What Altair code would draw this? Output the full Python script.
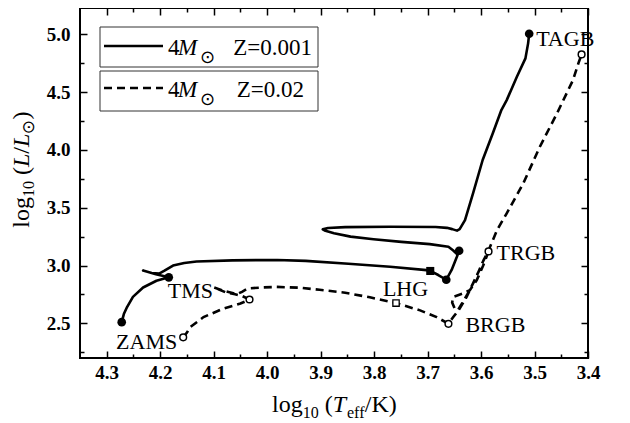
import altair as alt
import pandas as pd

# ---------------- data ----------------
# 4 Msun, Z=0.001 track (solid)
solid_logT = [4.272, 4.268, 4.262, 4.251, 4.232, 4.207, 4.184, 4.208, 4.232, 4.216, 4.202, 4.192,
              4.176, 4.155, 4.132, 4.065, 3.981, 3.928, 3.848, 3.770, 3.702, 3.695, 3.680, 3.665,
              3.655, 3.645, 3.641, 3.645, 3.652, 3.661, 3.696, 3.749, 3.801, 3.844, 3.875, 3.891,
              3.896, 3.886, 3.854, 3.770, 3.685, 3.664, 3.654, 3.645, 3.640, 3.630, 3.615, 3.597,
              3.578, 3.562, 3.552, 3.533, 3.517, 3.512, 3.510]
solid_logL = [2.510, 2.580, 2.641, 2.729, 2.810, 2.868, 2.898, 2.925, 2.956, 2.935, 2.930, 2.955,
              3.000, 3.022, 3.035, 3.045, 3.048, 3.040, 3.015, 2.990, 2.960, 2.953, 2.918, 2.877,
              2.962, 3.078, 3.128, 3.100, 3.130, 3.162, 3.185, 3.205, 3.228, 3.250, 3.280, 3.300,
              3.313, 3.325, 3.332, 3.335, 3.333, 3.326, 3.315, 3.302, 3.315, 3.393, 3.625, 3.913,
              4.144, 4.345, 4.431, 4.633, 4.792, 4.922, 5.005]

# 4 Msun, Z=0.02 track (dashed)
dash_logT = [4.157, 4.150, 4.144, 4.119, 4.082, 4.050, 4.033, 4.046, 4.060, 4.076, 4.100, 4.081,
             4.057, 4.047, 4.036, 4.007, 3.982, 3.938, 3.902, 3.854, 3.808, 3.759, 3.714, 3.683,
             3.661, 3.652, 3.640, 3.627, 3.615, 3.603, 3.595, 3.586, 3.596, 3.608, 3.621, 3.634,
             3.652, 3.654, 3.649, 3.643, 3.634, 3.622, 3.609, 3.598, 3.586, 3.570, 3.552, 3.521,
             3.490, 3.458, 3.428, 3.418, 3.412]
dash_logL = [2.379, 2.420, 2.467, 2.554, 2.627, 2.671, 2.706, 2.735, 2.752, 2.765, 2.811, 2.781,
             2.752, 2.772, 2.802, 2.811, 2.815, 2.808, 2.790, 2.765, 2.725, 2.675, 2.612, 2.554,
             2.496, 2.554, 2.627, 2.729, 2.846, 2.962, 3.050, 3.122, 3.000, 2.874, 2.787, 2.758,
             2.729, 2.680, 2.625, 2.615, 2.685, 2.780, 2.900, 3.020, 3.130, 3.307, 3.452, 3.711,
             4.028, 4.316, 4.605, 4.749, 4.826]

# key points (ZAMS, TMS, BRGB, TRGB, TAGB) and LHG
solid_pt_T = [4.272, 4.184, 3.665, 3.641, 3.510]
solid_pt_L = [2.510, 2.898, 2.877, 3.128, 5.005]
solid_lhg_T = [3.695]
solid_lhg_L = [2.953]
dash_pt_T = [4.157, 4.033, 3.661, 3.586, 3.412]
dash_pt_L = [2.379, 2.706, 2.496, 3.122, 4.826]
dash_lhg_T = [3.759]
dash_lhg_L = [2.675]

label_text = ["TAGB", "TRGB", "BRGB", "LHG", "TMS", "ZAMS"]
label_T = [3.510, 3.586, 3.661, 3.759, 4.184, 4.157]
label_L = [5.005, 3.122, 2.496, 2.675, 2.898, 2.379]

x_major = [4.3, 4.2, 4.1, 4.0, 3.9, 3.8, 3.7, 3.6, 3.5, 3.4]
x_minor = [4.25, 4.15, 4.05, 3.95, 3.85, 3.75, 3.65, 3.55, 3.45]
y_major = [2.5, 3.0, 3.5, 4.0, 4.5, 5.0]
y_minor = [2.25, 2.75, 3.25, 3.75, 4.25, 4.75]

legend_mass = "4"
legend_z = ["Z=0.001", "Z=0.02"]

# ---------------- styling ----------------
W, H = 508, 350
SERIF = "Liberation Serif"
SYM = "DejaVu Sans"
xs = alt.Scale(domain=[3.4, 4.35], reverse=True, nice=False, zero=False)
ys = alt.Scale(domain=[2.2, 5.228], nice=False, zero=False)


def ax(values, orient, size, labels=False, pad=4):
    kw = dict(values=values, orient=orient, tickSize=size, offset=-size, domain=False,
              grid=False, labels=labels, ticks=True, tickColor="black", tickWidth=1.5,
              title=None)
    if labels:
        kw.update(format=".1f", labelFont=SERIF, labelFontSize=19, labelFontWeight="bold",
                  labelColor="black", labelPadding=pad, labelFlush=False, labelOverlap=False)
    return alt.Axis(**kw)


solid_df = pd.DataFrame({"T": solid_logT, "L": solid_logL, "i": range(len(solid_logT))})
dash_df = pd.DataFrame({"T": dash_logT, "L": dash_logL, "i": range(len(dash_logT))})
spts = pd.DataFrame({"T": solid_pt_T, "L": solid_pt_L})
dpts = pd.DataFrame({"T": dash_pt_T, "L": dash_pt_L})
slhg = pd.DataFrame({"T": solid_lhg_T, "L": solid_lhg_L})
dlhg = pd.DataFrame({"T": dash_lhg_T, "L": dash_lhg_L})
lab_df = pd.DataFrame({"T": label_T, "L": label_L, "s": label_text})

NX = alt.X("T:Q", scale=xs, axis=None)
NY = alt.Y("L:Q", scale=ys, axis=None)

layers = []
layers.append(
    alt.Chart(solid_df).mark_line(color="black", strokeWidth=2.6, strokeJoin="round").encode(
        x=alt.X("T:Q", scale=xs, axis=ax(x_major, "bottom", 7, True, 5)),
        y=alt.Y("L:Q", scale=ys, axis=ax(y_major, "left", 7, True, 10)),
        order="i:Q"))
layers.append(
    alt.Chart(dash_df).mark_line(color="black", strokeWidth=2.6, strokeDash=[8, 5]).encode(
        x=NX, y=NY, order="i:Q"))
layers.append(alt.Chart(spts).mark_point(shape="circle", filled=True, color="black",
                                         size=75, opacity=1).encode(x=NX, y=NY))
layers.append(alt.Chart(slhg).mark_point(shape="square", filled=True, color="black",
                                         size=65, opacity=1).encode(x=NX, y=NY))
layers.append(alt.Chart(dpts).mark_point(shape="circle", filled=True, fill="white",
                                         stroke="black", strokeWidth=1.5, size=45,
                                         opacity=1).encode(x=NX, y=NY))
layers.append(alt.Chart(dlhg).mark_point(shape="square", filled=True, fill="white",
                                         stroke="black", strokeWidth=1.3, size=40,
                                         opacity=1).encode(x=NX, y=NY))

label_style = {"TAGB": (7, 5.5, "left"), "TRGB": (8, 2, "left"), "BRGB": (17, 1, "left"),
               "LHG": (9.5, -14.5, "center"), "TMS": (-1, 14, "left"), "ZAMS": (-6, 5, "right")}
for t in label_text:
    dx, dy, al = label_style[t]
    layers.append(
        alt.Chart(lab_df).transform_filter(alt.datum.s == t).mark_text(
            font=SERIF, fontSize=22, align=al, baseline="middle", dx=dx, dy=dy,
            color="black").encode(x=NX, y=NY, text="s:N"))


# extra axes for the inward ticks on all four sides
def tick_layer(xa, ya):
    return alt.Chart(dpts).mark_point(opacity=0).encode(
        x=alt.X("T:Q", scale=xs, axis=xa), y=alt.Y("L:Q", scale=ys, axis=ya))


layers.append(tick_layer(ax(x_major, "top", 7), ax(y_major, "right", 7)))
layers.append(tick_layer(ax(x_minor, "bottom", 4), ax(y_minor, "left", 4)))
layers.append(tick_layer(ax(x_minor, "top", 4), ax(y_minor, "right", 4)))

one = pd.DataFrame({"k": [0]})


def ptext(s, x, y, size=23, style="normal", font=SERIF, angle=0, align="left"):
    return alt.Chart(one).mark_text(text=s, font=font, fontSize=size, fontStyle=style,
                                    angle=angle, align=align, baseline="alphabetic",
                                    color="black").encode(x=alt.value(x), y=alt.value(y))


# legend boxes
for (y0, y1, ly, dash, base, zx, zt) in [(19, 59, 38, None, 47, 153.3, legend_z[0]),
                                         (63, 103, 80, [8, 5], 89, 156.7, legend_z[1])]:
    layers.append(alt.Chart(one).mark_rect(fill="white", stroke="#333333", strokeWidth=1).encode(
        x=alt.value(20), x2=alt.value(238), y=alt.value(y0), y2=alt.value(y1)))
    rule_kw = dict(color="black", strokeWidth=2.6)
    if dash:
        rule_kw["strokeDash"] = dash
    layers.append(alt.Chart(one).mark_rule(**rule_kw).encode(
        x=alt.value(24), x2=alt.value(83), y=alt.value(ly)))
    layers.append(ptext(legend_mass, 88, base))
    layers.append(ptext("M", 98, base, style="italic"))
    layers.append(ptext("\u2299", 120, base + 7.5, size=18, font=SYM))
    layers.append(ptext(zt, zx, base))

# x-axis title: log10 (Teff/K)
xb, xsb = 404, 410
layers += [ptext("log", 192.1, xb, 24), ptext("10", 222.8, xsb, 16), ptext("(", 244.8, xb, 24),
           ptext("T", 252.8, xb, 24, "italic"), ptext("eff", 267.0, xsb, 16),
           ptext("/", 284.8, xb, 24), ptext("K", 291.5, xb, 24), ptext(")", 308.8, xb, 24)]

# y-axis title: log10 (L/Lsun), rotated
yb, ysb = -51, -46.5
layers += [ptext("log", yb, 219.7, 24, angle=270), ptext("10", ysb, 189, 16, angle=270),
           ptext("(", yb, 167, 24, angle=270), ptext("L", yb, 159, 24, "italic", angle=270),
           ptext("/", yb, 145.7, 24, angle=270), ptext("L", yb, 139, 24, "italic", angle=270),
           ptext("\u2299", ysb, 126.2, 17, font=SYM, angle=270),
           ptext(")", yb, 111.5, 24, angle=270)]

chart = alt.layer(*layers).resolve_axis(x="independent", y="independent").properties(
    width=W, height=H,
    padding={"left": 72, "top": 0, "right": 30, "bottom": 65},
    autosize=alt.AutoSizeParams(type="none"),
    background="white",
).configure_view(stroke="black", strokeWidth=2)

chart.save("out.html", embed_options={"renderer": "svg", "actions": False})
